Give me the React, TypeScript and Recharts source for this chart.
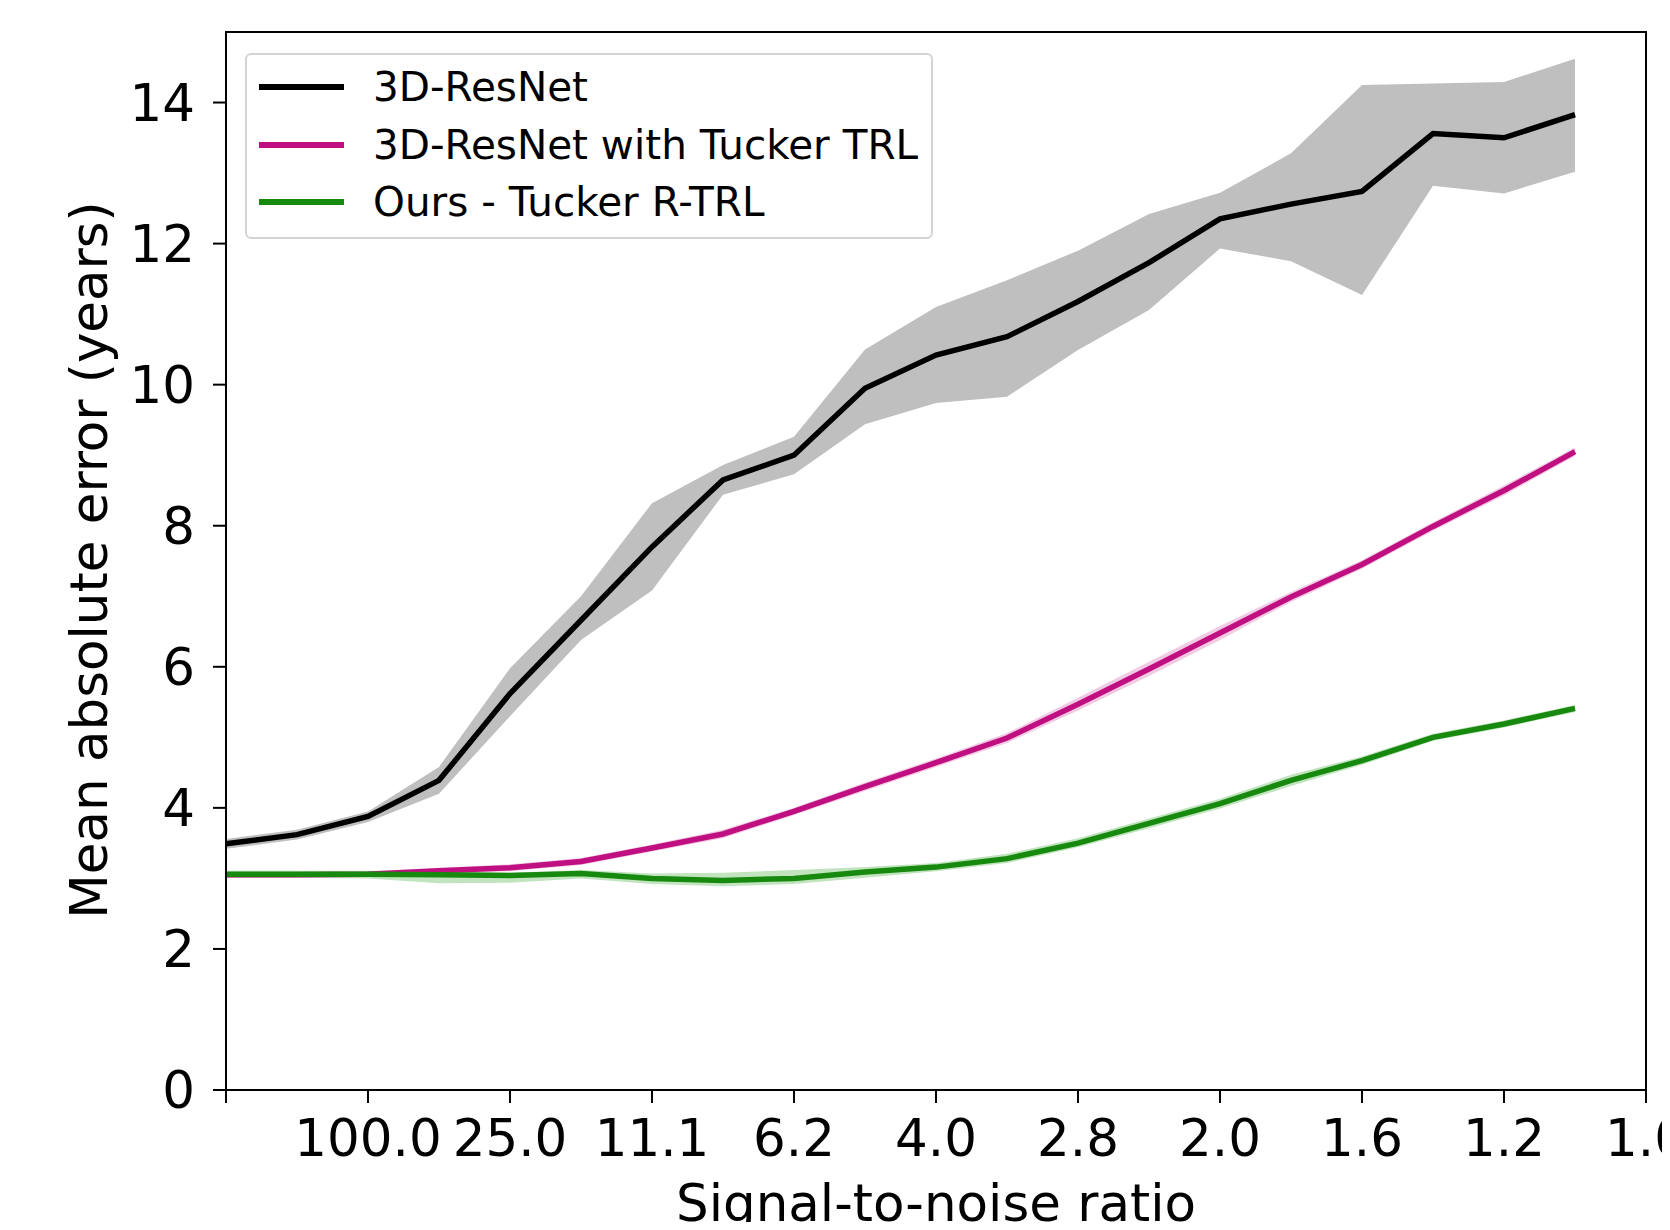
import { ComposedChart, Line, Area, XAxis, YAxis, Legend, ReferenceArea } from 'recharts'

const snrPositions = [0, 0.5, 1, 1.5, 2, 2.5, 3, 3.5, 4, 4.5, 5, 5.5, 6, 6.5, 7, 7.5, 8, 8.5, 9, 9.5]
const tickPositions = [0, 1, 2, 3, 4, 5, 6, 7, 8, 9, 10]
const tickLabels = ['', '100.0', '25.0', '11.1', '6.2', '4.0', '2.8', '2.0', '1.6', '1.2', '1.0']
const yTicks = [0, 2, 4, 6, 8, 10, 12, 14]

const resnetMean = [3.49, 3.62, 3.88, 4.39, 5.62, 6.66, 7.7, 8.65, 9.0, 9.95, 10.42, 10.68, 11.18, 11.73, 12.35, 12.56, 12.74, 13.56, 13.5, 13.83]
const resnetHigh = [3.56, 3.69, 3.95, 4.58, 5.98, 7.0, 8.32, 8.86, 9.26, 10.5, 11.1, 11.48, 11.9, 12.42, 12.72, 13.28, 14.25, 14.27, 14.29, 14.62]
const resnetLow = [3.42, 3.55, 3.8, 4.2, 5.3, 6.38, 7.08, 8.44, 8.73, 9.44, 9.74, 9.83, 10.49, 11.06, 11.93, 11.75, 11.27, 12.82, 12.71, 13.02]

const trlMean = [3.05, 3.05, 3.06, 3.11, 3.15, 3.24, 3.43, 3.63, 3.95, 4.3, 4.64, 4.99, 5.47, 5.97, 6.48, 6.99, 7.45, 7.99, 8.5, 9.05]
const trlHigh = [3.09, 3.09, 3.1, 3.15, 3.2, 3.29, 3.48, 3.69, 4.0, 4.36, 4.7, 5.06, 5.56, 6.07, 6.58, 7.06, 7.51, 8.05, 8.57, 9.11]
const trlLow = [3.01, 3.01, 3.02, 3.07, 3.1, 3.19, 3.38, 3.57, 3.9, 4.24, 4.58, 4.92, 5.38, 5.87, 6.38, 6.92, 7.39, 7.93, 8.43, 8.99]

const rtrlMean = [3.06, 3.06, 3.06, 3.05, 3.04, 3.07, 3.0, 2.97, 3.0, 3.09, 3.16, 3.28, 3.5, 3.78, 4.06, 4.39, 4.67, 5.0, 5.19, 5.41]
const rtrlHigh = [3.11, 3.11, 3.11, 3.1, 3.08, 3.12, 3.07, 3.08, 3.12, 3.16, 3.22, 3.35, 3.57, 3.85, 4.13, 4.47, 4.73, 5.05, 5.24, 5.46]
const rtrlLow = [3.01, 3.01, 3.0, 2.93, 2.94, 3.0, 2.92, 2.89, 2.92, 3.01, 3.1, 3.22, 3.44, 3.71, 3.99, 4.31, 4.61, 4.95, 5.14, 5.36]

const data = snrPositions.map((x, i) => ({
  x,
  resnet: resnetMean[i],
  resnetBand: [resnetLow[i], resnetHigh[i]],
  trl: trlMean[i],
  trlBand: [trlLow[i], trlHigh[i]],
  rtrl: rtrlMean[i],
  rtrlBand: [rtrlLow[i], rtrlHigh[i]]
}))

const font = '"DejaVu Sans", sans-serif'
const BLACK = '#000000'
const MAGENTA = '#bf0f80'
const GREEN = '#18890f'

const legendItems = [
  { label: '3D-ResNet', color: BLACK },
  { label: '3D-ResNet with Tucker TRL', color: MAGENTA },
  { label: 'Ours - Tucker R-TRL', color: GREEN }
]

function LegendBox () {
  return (
    <div style={{
      width: 684, height: 182, border: '2px solid #d4d4d4', borderRadius: 6,
      background: 'rgba(255,255,255,0.85)', position: 'relative', fontFamily: font
    }}>
      {legendItems.map((it, i) => (
        <div key={it.label} style={{ position: 'absolute', left: 0, top: 8 + i * 57.5, height: 48, display: 'flex', alignItems: 'center' }}>
          <div style={{ marginLeft: 12, width: 85, height: 6, background: it.color }} />
          <span style={{ marginLeft: 29, fontSize: 40.5, color: '#000', lineHeight: '48px', whiteSpace: 'nowrap' }}>{it.label}</span>
        </div>
      ))}
    </div>
  )
}

export default function App () {
  return (
    <div style={{ margin: -8, width: 1670, height: 1230, background: '#fff' }}>
      <ComposedChart width={1670} height={1230} data={data} margin={{ top: 32, right: 24, left: 0, bottom: 0 }}>
        <XAxis
          dataKey="x"
          type="number"
          domain={[0, 10]}
          ticks={tickPositions}
          interval={0}
          tickFormatter={(v: number) => tickLabels[v]}
          height={140}
          stroke={BLACK}
          strokeWidth={2}
          tickSize={13}
          tickMargin={16}
          tick={{ fill: BLACK, fontSize: 51.5, fontFamily: font }}
          label={{
            content: () => (
              <text x={936} y={1221} textAnchor="middle" fontSize={51.5} fontFamily={font} fill={BLACK}>Signal-to-noise ratio</text>
            )
          }}
        />
        <YAxis
          type="number"
          domain={[0, 15]}
          ticks={yTicks}
          interval={0}
          allowDataOverflow
          width={226}
          stroke={BLACK}
          strokeWidth={2}
          tickSize={13}
          tickMargin={18}
          tick={{ fill: BLACK, fontSize: 51.5, fontFamily: font }}
          label={{
            content: () => (
              <text x={107} y={560} transform="rotate(-90, 107, 560)" textAnchor="middle" fontSize={51.5} fontFamily={font} fill={BLACK}>Mean absolute error (years)</text>
            )
          }}
        />
        <ReferenceArea x1={0} x2={10} y1={0} y2={15} fill="none" stroke={BLACK} strokeWidth={2} />
        <Area dataKey="resnetBand" type="linear" stroke="none" fill="#bfbfbf" fillOpacity={1} isAnimationActive={false} legendType="none" />
        <Line dataKey="resnet" type="linear" stroke={BLACK} strokeWidth={5.5} dot={false} isAnimationActive={false} />
        <Area dataKey="trlBand" type="linear" stroke="none" fill="#e9a8d0" fillOpacity={0.6} isAnimationActive={false} legendType="none" />
        <Line dataKey="trl" type="linear" stroke={MAGENTA} strokeWidth={5.5} dot={false} isAnimationActive={false} />
        <Area dataKey="rtrlBand" type="linear" stroke="none" fill="#a6d8a2" fillOpacity={0.7} isAnimationActive={false} legendType="none" />
        <Line dataKey="rtrl" type="linear" stroke={GREEN} strokeWidth={5.5} dot={false} isAnimationActive={false} />
        <Legend
          layout="vertical"
          align="center"
          verticalAlign="middle"
          content={() => <LegendBox />}
          wrapperStyle={{ position: 'absolute', top: 53, left: 245, width: 688, height: 186 }}
        />
      </ComposedChart>
    </div>
  )
}
